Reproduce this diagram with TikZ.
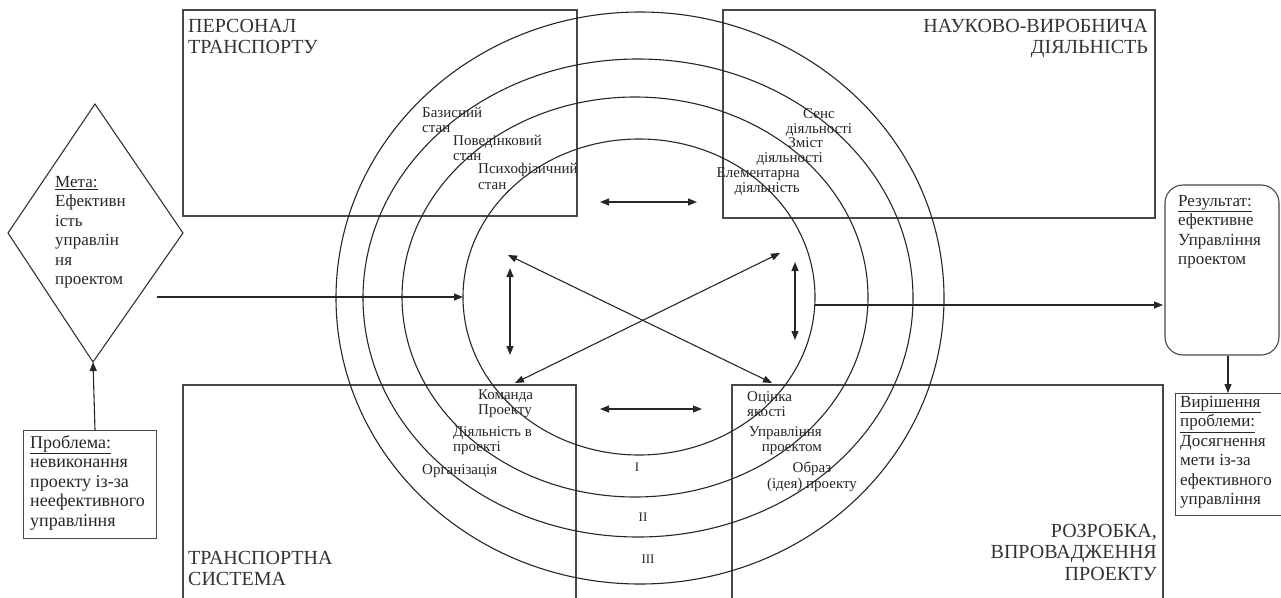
\documentclass[tikz,border=0pt]{standalone}
\usepackage{fontspec}
\setmainfont{Liberation Serif}
\usetikzlibrary{arrows.meta}
\begin{document}
\begin{tikzpicture}[x=1pt,y=-1pt,
  frame/.style={draw=black!72, line width=1.1pt, inner sep=0pt},
  ringe/.style={draw=black!85, line width=1.1pt},
  tip/.style={-{Triangle[length=9pt,width=7pt]}, draw=black!85, line width=1.1pt},
  dtip/.style={{Triangle[length=9pt,width=7pt]}-{Triangle[length=9pt,width=7pt]}, draw=black!85, line width=1.1pt},
  lab/.style={font=\fontsize{15}{15.5}\selectfont, inner sep=0pt, text=black!85},
  big/.style={font=\fontsize{20}{21.5}\selectfont, inner sep=0pt, text=black!80},
  txt/.style={font=\fontsize{17}{19.5}\selectfont, inner sep=0pt, text=black!85, align=left, anchor=north west},
  rom/.style={font=\fontsize{13}{15}\selectfont, inner sep=0pt, text=black!85},
]
\useasboundingbox (0,0) rectangle (1281,597);

% quadrant boxes
\node[frame, minimum width=394, minimum height=206] (pers) at (380,113) {};
\node[frame, minimum width=432, minimum height=208] (nauk) at (939,114) {};
\draw[black!72, line width=1.1pt] (183,605) -- (183,385) -- (576,385) -- (576,605);
\draw[black!72, line width=1.1pt] (732,605) -- (732,385) -- (1163,385) -- (1163,605);

\node[big, align=left, anchor=north west] (tpers) at (188,19) {ПЕРСОНАЛ\\ТРАНСПОРТУ};
\node[big, align=right, anchor=north east] (tnauk) at (1148,19) {НАУКОВО-ВИРОБНИЧА\\ДІЯЛЬНІСТЬ};
\node[big, align=left, anchor=north west] (tsys) at (188,551) {ТРАНСПОРТНА\\СИСТЕМА};
\node[big, align=right, anchor=north east] (trozr) at (1157,524) {РОЗРОБКА,\\ВПРОВАДЖЕННЯ\\ПРОЕКТУ};

% rings
\draw[ringe] (640,298) ellipse [x radius=304, y radius=286];
\draw[ringe] (638,298) ellipse [x radius=275, y radius=239];
\draw[ringe] (635,297) ellipse [x radius=233, y radius=200];
\draw[ringe] (639,297) ellipse [x radius=176, y radius=158];
\coordinate (e1w) at (463,297);
\coordinate (e1e) at (815,305);

% ring labels
\node[lab, align=left, anchor=north west] (l1) at (422,107) {Базисний\\стан};
\node[lab, align=left, anchor=north west] (l2) at (453,135) {Поведінковий\\стан};
\node[lab, align=left, anchor=north west] (l3) at (478,163) {Психофізичний\\стан};
\node[lab, align=center, anchor=north] (r1) at (819,108) {Сенс\\діяльності};
\node[lab, align=right, anchor=north east] (r2) at (823,137) {Зміст\\діяльності};
\node[lab, align=right, anchor=north east] (r3) at (800,167) {Елементарна\\діяльність};
\node[lab, align=left, anchor=north west] (b1) at (478,389) {Команда\\Проекту};
\node[lab, align=left, anchor=north west] (b2) at (453,426) {Діяльність в\\проекті};
\node[lab, align=left, anchor=north west] (b3) at (422,464) {Організація};
\node[lab, align=left, anchor=north west] (c1) at (747,391) {Оцінка\\якості};
\node[lab, align=right, anchor=north east] (c2) at (822,426) {Управління\\проектом};
\node[lab, align=center, anchor=north] (c3) at (812,462) {Образ\\(ідея) проекту};
\node[rom] (n1) at (637,467) {I};
\node[rom] (n2) at (643,517) {II};
\node[rom] (n3) at (648,559) {III};

% inner arrows
\coordinate (ul) at (508,255);
\coordinate (ur) at (780,253);
\coordinate (ll) at (515,383);
\coordinate (lr) at (772,383);
\draw[dtip] (ul) -- (lr);
\draw[dtip] (ll) -- (ur);
\coordinate (ht1) at (600,202); \coordinate (ht2) at (697,202);
\draw[dtip] (ht1) -- (ht2);
\coordinate (hb1) at (600,409); \coordinate (hb2) at (702,409);
\draw[dtip] (hb1) -- (hb2);
\coordinate (vl1) at (510,268); \coordinate (vl2) at (510,355);
\draw[dtip] (vl1) -- (vl2);
\coordinate (vr1) at (795,262); \coordinate (vr2) at (795,340);
\draw[dtip] (vr1) -- (vr2);

% goal diamond
\coordinate (dt) at (95,104);
\coordinate (dr) at (183,233);
\coordinate (db) at (93,362);
\coordinate (dl) at (8,233);
\draw[black!80, line width=1.1pt] (dt) -- (dr) -- (db) -- (dl) -- cycle;
\node[txt] (meta) at (55,176) {\underline{Мета:}\\Ефективн\\ість\\управлін\\ня\\проектом};
\coordinate (ms) at (157,297);
\draw[tip] (ms) -- (ms -| e1w);

% problem box
\node[frame, minimum width=133, minimum height=108, anchor=north west] (prob) at (23,430) {};
\node[txt, font=\fontsize{18}{19.5}\selectfont] (tprob) at (30,435) {\underline{Проблема:}\\невиконання\\проекту із-за\\неефективного\\управління};
\coordinate (pt) at (95,430);
\draw[tip] (pt) -- (db);

% result box
\node[frame, rounded corners=18pt, minimum width=114, minimum height=170] (res) at (1222,270) {};
\node[txt] (tres) at (1178,195) {\underline{Результат:}\\ефективне\\Управління\\проектом};
\coordinate (rin) at (1163,305);
\draw[tip] (e1e) -- (rin);

% solution box
\node[frame, minimum width=106, minimum height=122, anchor=north west] (sol) at (1175,393) {};
\node[txt] (tsol) at (1180,396) {\underline{Вирішення}\\\underline{проблеми:}\\Досягнення\\мети із-за\\ефективного\\управління};
\draw[tip] (res.south -| 1228,0) -- (sol.north -| 1228,0);
\end{tikzpicture}
\end{document}
